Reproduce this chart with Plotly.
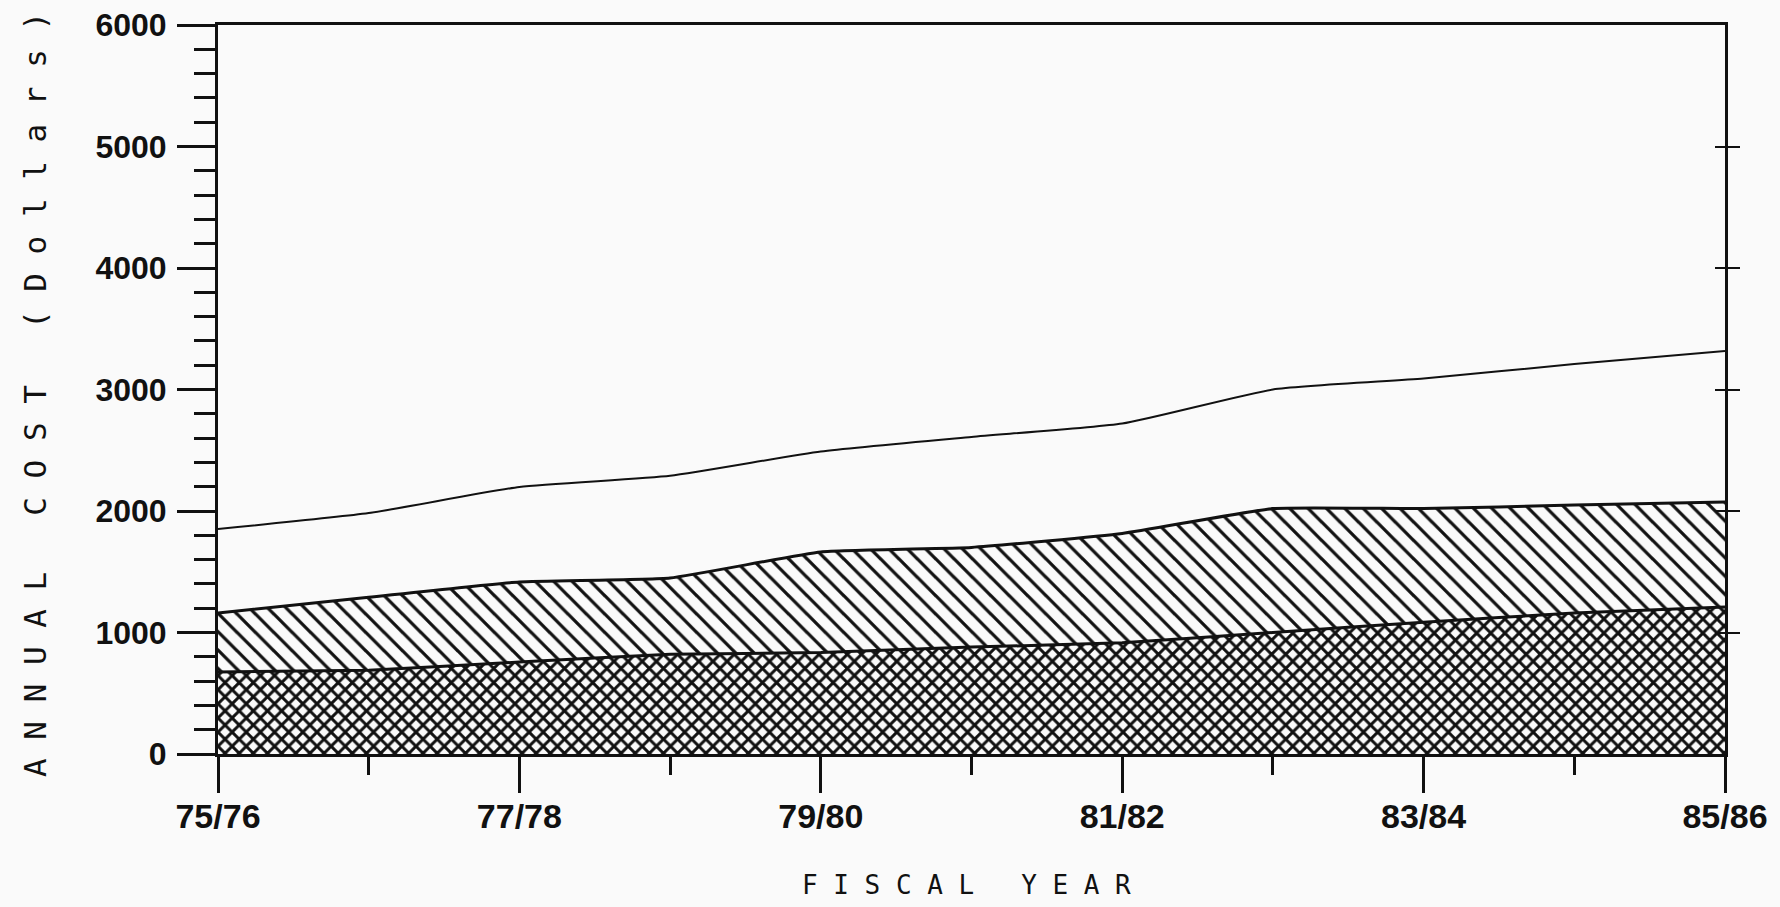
import plotly.graph_objects as go

# ---- data ----
fiscal_years = ["75/76", "76/77", "77/78", "78/79", "79/80", "80/81",
                "81/82", "82/83", "83/84", "84/85", "85/86"]
# cumulative boundaries of the stacked bands (dollars)
lower_band_top = [675, 690, 757, 820, 835, 880, 915, 1000, 1085, 1160, 1210]
middle_band_top = [1160, 1290, 1416, 1449, 1663, 1700, 1815, 2020, 2020, 2049, 2074]
total_cost = [1852, 1983, 2198, 2290, 2490, 2610, 2720, 3000, 3090, 3210, 3317]

y_major_ticks = [0, 1000, 2000, 3000, 4000, 5000, 6000]
right_ticks = [1000, 2000, 3000, 4000, 5000]

x_idx = list(range(len(fiscal_years)))
x_label_idx = x_idx[::2]
x_label_txt = fiscal_years[::2]

INK = "#111111"
BG = "#fafafa"
TICKFONT = "Liberation Sans, Arial, sans-serif"
MONO = "DejaVu Sans Mono, Liberation Mono, monospace"

fig = go.Figure()

# bottom cross-hatched band
fig.add_trace(go.Scatter(
    x=x_idx, y=lower_band_top, mode="lines", fill="tozeroy",
    line=dict(color=INK, width=3, shape="spline", smoothing=0.3),
    fillcolor=BG,
    fillpattern=dict(shape="x", size=10, solidity=0.5, fgcolor=INK, bgcolor=BG, fillmode="replace"),
    hoverinfo="skip", showlegend=False,
))
# middle diagonal-hatched band
fig.add_trace(go.Scatter(
    x=x_idx, y=middle_band_top, mode="lines", fill="tonexty",
    line=dict(color=INK, width=3, shape="spline", smoothing=0.4),
    fillcolor=BG,
    fillpattern=dict(shape="\\", size=13, solidity=0.25, fgcolor=INK, bgcolor=BG, fillmode="replace"),
    hoverinfo="skip", showlegend=False,
))
# total line
fig.add_trace(go.Scatter(
    x=x_idx, y=total_cost, mode="lines",
    line=dict(color=INK, width=2, shape="spline", smoothing=0.5),
    hoverinfo="skip", showlegend=False,
))
# invisible helpers for the right-hand tick axes
for ax in ("y2", "y3"):
    fig.add_trace(go.Scatter(x=[0, 10], y=[0, 6000], yaxis=ax, mode="markers",
                             marker=dict(opacity=0, size=1), hoverinfo="skip", showlegend=False))

fig.update_layout(
    width=1780, height=907,
    margin=dict(l=218, r=55, t=25, b=153, autoexpand=False),
    paper_bgcolor=BG, plot_bgcolor=BG,
    xaxis=dict(
        range=[0, 10], tickvals=x_label_idx, ticktext=x_label_txt,
        ticks="outside", ticklen=36, tickwidth=2.5, tickcolor=INK,
        minor=dict(dtick=1, tick0=0, ticks="outside", ticklen=18, tickwidth=2.5, tickcolor=INK),
        showline=True, linewidth=3, linecolor=INK, mirror=True,
        showgrid=False, zeroline=False, automargin=False,
        tickfont=dict(family=TICKFONT, size=34, color=INK, weight="bold"),
        ticklabelstandoff=-6,
    ),
    yaxis=dict(
        range=[0, 6000], tickvals=y_major_ticks,
        ticks="outside", ticklen=38, tickwidth=3, tickcolor=INK,
        minor=dict(dtick=200, tick0=0, ticks="outside", ticklen=21, tickwidth=2.5, tickcolor=INK),
        showline=True, linewidth=3, linecolor=INK,
        showgrid=False, zeroline=False, automargin=False,
        tickfont=dict(family=TICKFONT, size=32, color=INK, weight="bold"),
        ticklabelstandoff=4,
    ),
    yaxis2=dict(
        range=[0, 6000], overlaying="y", side="right", tickvals=right_ticks,
        ticks="outside", ticklen=12, tickwidth=2, tickcolor=INK,
        showline=True, linewidth=2.5, linecolor=INK, showticklabels=False,
        showgrid=False, zeroline=False, automargin=False,
    ),
    yaxis3=dict(
        range=[0, 6000], overlaying="y", side="right", tickvals=right_ticks,
        ticks="inside", ticklen=10, tickwidth=2, tickcolor=INK,
        showline=False, showticklabels=False, showgrid=False, zeroline=False,
        automargin=False,
    ),
    annotations=[
        dict(text="F I S C A L   Y E A R", xref="paper", yref="paper",
             x=0.4965, y=-0.180, xanchor="center", yanchor="middle", showarrow=False,
             font=dict(family=MONO, size=26, color=INK)),
        dict(text="A N N U A L   C O S T   ( D o l l a r s )", xref="paper", yref="paper",
             x=-0.1214, y=0.4925, xanchor="center", yanchor="middle", showarrow=False,
             textangle=-90, font=dict(family=MONO, size=31, color=INK)),
    ],
)

fig.write_html("out.html",
               config={"displayModeBar": False},
               post_script="document.body.style.margin='0';document.body.style.overflow='hidden';")
